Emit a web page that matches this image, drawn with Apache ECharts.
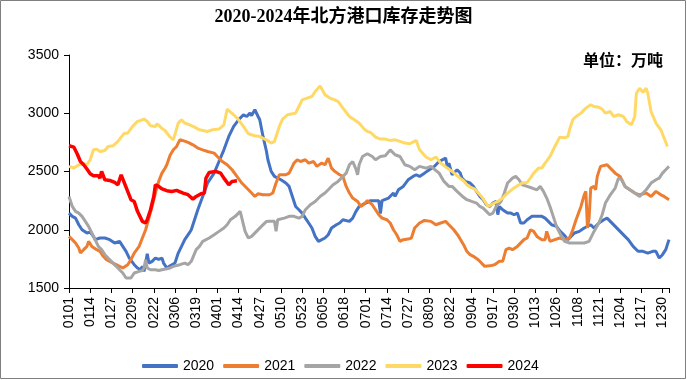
<!DOCTYPE html>
<html>
<head>
<meta charset="utf-8">
<script src="https://cdn.jsdelivr.net/npm/echarts@6/dist/echarts.min.js"></script>
<style>html,body{margin:0;padding:0;background:#fff}#c{width:687px;height:380px}</style>
</head>
<body>
<div id="c"></div>
<script>
// Day index (0 = 0101 of a leap year) and stock value (万吨)
const s2020 = [[0,2143],[2,2115],[4,2100],[6,2043],[8,2000],[11,1972],[13,1980],[15,1943],[16,1915],[19,1929],[22,1929],[25,1915],[28,1886],[31,1900],[33,1857],[35,1815],[37,1757],[40,1700],[42,1672],[44,1657],[45,1686],[46,1643],[47,1714],[48,1794],[49,1714],[51,1729],[53,1757],[55,1745],[57,1757],[58,1714],[60,1672],[62,1690],[65,1714],[67,1800],[69,1857],[71,1915],[74,1977],[75,2000],[77,2086],[79,2172],[82,2286],[85,2401],[89,2486],[92,2586],[95,2686],[98,2801],[101,2887],[104,2944],[107,2987],[109,2972],[111,3001],[112,2980],[114,3030],[116,2972],[117,2944],[119,2801],[121,2680],[122,2601],[124,2501],[126,2458],[130,2429],[133,2401],[135,2372],[137,2286],[139,2200],[141,2172],[143,2143],[145,2100],[147,2058],[149,2015],[151,1943],[153,1900],[154,1915],[157,1929],[159,1957],[161,2015],[164,2043],[166,2058],[168,2086],[172,2072],[174,2100],[176,2158],[178,2200],[180,2215],[183,2235],[185,2250],[188,2250],[190,2250],[191,2140],[192,2250],[193,2258],[196,2272],[199,2315],[200,2286],[202,2343],[205,2372],[208,2429],[211,2458],[213,2472],[215,2458],[218,2486],[221,2515],[224,2543],[227,2586],[231,2615],[232,2543],[233,2572],[235,2472],[238,2515],[240,2486],[241,2443],[243,2415],[246,2401],[248,2372],[250,2329],[252,2286],[254,2258],[256,2215],[258,2200],[260,2229],[262,2243],[263,2130],[264,2200],[266,2172],[269,2143],[271,2143],[273,2129],[275,2143],[277,2058],[279,2058],[281,2086],[284,2115],[287,2115],[290,2115],[292,2100],[294,2072],[296,2043],[299,2029],[301,1990],[304,1950],[306,1915],[310,1972],[313,1986],[316,2015],[320,2043],[322,2015],[325,2058],[328,2086],[330,2100],[332,2072],[335,2029],[338,1986],[341,1943],[343,1915],[346,1857],[349,1815],[352,1815],[355,1800],[358,1815],[360,1815],[362,1757],[364,1786],[366,1829],[368,1915]];
const s2021 = [[0,1943],[2,1915],[4,1886],[6,1843],[7,1800],[9,1829],[11,1857],[12,1900],[14,1857],[17,1829],[19,1815],[21,1772],[23,1743],[25,1729],[27,1714],[29,1700],[31,1686],[33,1672],[34,1663],[36,1700],[38,1743],[40,1800],[43,1857],[45,1929],[47,2000],[49,2100],[51,2200],[53,2315],[55,2415],[57,2486],[59,2530],[60,2558],[62,2640],[64,2686],[66,2715],[68,2772],[70,2765],[73,2750],[76,2729],[79,2701],[82,2686],[85,2672],[89,2658],[91,2629],[94,2586],[97,2558],[100,2515],[103,2458],[106,2401],[109,2358],[112,2315],[114,2286],[116,2309],[119,2300],[123,2300],[125,2315],[127,2401],[129,2472],[133,2472],[135,2486],[138,2572],[140,2601],[142,2586],[145,2601],[147,2572],[150,2586],[152,2544],[155,2572],[157,2558],[159,2615],[161,2529],[163,2501],[166,2472],[168,2458],[170,2372],[172,2315],[174,2272],[177,2243],[179,2200],[181,2220],[183,2250],[184,2265],[186,2215],[188,2172],[190,2129],[192,2100],[195,2086],[197,2058],[199,2000],[201,1957],[203,1900],[205,1915],[208,1920],[210,1929],[212,2015],[215,2058],[218,2080],[222,2072],[225,2043],[228,2058],[231,2072],[233,2043],[236,2000],[239,1943],[242,1872],[244,1815],[246,1786],[248,1772],[251,1743],[253,1714],[255,1686],[258,1690],[261,1700],[264,1729],[266,1729],[268,1829],[270,1843],[272,1829],[275,1857],[279,1915],[281,1929],[283,2000],[285,1986],[287,1943],[290,1915],[292,1915],[293,1986],[295,1900],[298,1915],[301,1929],[304,1915],[307,1929],[309,2000],[311,2086],[314,2200],[316,2300],[317,2330],[318,2015],[319,2100],[320,2358],[322,2372],[323,2343],[324,2458],[326,2544],[330,2558],[332,2529],[335,2486],[338,2458],[341,2372],[344,2343],[347,2315],[350,2300],[354,2315],[357,2286],[360,2329],[363,2300],[365,2286],[368,2258]];
const s2022 = [[0,2286],[2,2200],[4,2158],[6,2143],[8,2115],[10,2072],[12,2029],[14,1972],[16,1915],[18,1857],[20,1829],[22,1786],[24,1757],[27,1714],[29,1686],[31,1657],[33,1629],[35,1586],[36,1572],[38,1586],[40,1629],[43,1643],[45,1650],[46,1672],[47,1743],[48,1672],[50,1657],[53,1657],[55,1650],[57,1657],[60,1665],[62,1672],[64,1686],[68,1700],[71,1714],[73,1700],[75,1729],[76,1743],[78,1829],[80,1857],[82,1900],[86,1929],[89,1957],[92,1986],[95,2015],[97,2043],[99,2086],[102,2115],[105,2158],[106,2165],[108,1986],[110,1929],[112,1943],[115,1986],[118,2029],[121,2070],[123,2072],[126,2072],[127,1986],[128,2086],[132,2100],[135,2115],[138,2115],[141,2100],[143,2115],[145,2172],[148,2215],[151,2243],[154,2286],[157,2315],[159,2343],[162,2386],[165,2415],[167,2443],[170,2486],[172,2558],[174,2586],[176,2520],[177,2472],[178,2560],[180,2629],[183,2652],[186,2629],[188,2601],[191,2629],[194,2635],[197,2686],[200,2644],[203,2629],[206,2558],[209,2544],[212,2515],[215,2544],[219,2529],[222,2544],[227,2486],[230,2415],[233,2372],[235,2372],[238,2329],[241,2290],[244,2258],[247,2243],[250,2229],[252,2200],[254,2186],[256,2158],[258,2129],[260,2143],[262,2200],[265,2243],[267,2315],[269,2401],[272,2443],[274,2458],[276,2429],[278,2386],[281,2372],[284,2358],[287,2343],[289,2372],[291,2329],[293,2272],[295,2200],[297,2115],[299,2029],[301,1972],[304,1900],[307,1886],[312,1886],[316,1886],[319,1900],[322,1986],[325,2058],[327,2129],[329,2229],[332,2300],[335,2358],[337,2443],[339,2429],[341,2372],[344,2343],[347,2315],[350,2286],[354,2343],[357,2401],[360,2429],[362,2443],[364,2486],[366,2515],[368,2544]];
const s2023 = [[0,2544],[3,2530],[6,2558],[9,2566],[11,2558],[13,2601],[15,2686],[17,2692],[19,2672],[22,2680],[24,2715],[27,2721],[30,2758],[32,2795],[34,2829],[36,2829],[39,2887],[42,2930],[44,2938],[46,2950],[48,2930],[50,2892],[53,2887],[54,2910],[57,2870],[59,2850],[62,2795],[64,2772],[65,2787],[67,2915],[69,2944],[71,2915],[74,2901],[77,2881],[80,2858],[85,2844],[88,2858],[92,2864],[95,2901],[97,3035],[98,3044],[101,2987],[104,2944],[107,2887],[110,2824],[114,2807],[117,2800],[121,2772],[124,2744],[126,2758],[129,2887],[131,2950],[134,2987],[137,2995],[139,3001],[141,3058],[143,3115],[146,3130],[149,3144],[151,3187],[154,3235],[155,3230],[157,3158],[160,3130],[163,3115],[165,3101],[168,3044],[172,2972],[175,2944],[178,2915],[181,2864],[183,2844],[185,2835],[188,2795],[191,2778],[194,2778],[197,2767],[200,2772],[203,2758],[206,2744],[209,2738],[213,2767],[215,2686],[219,2624],[222,2601],[225,2624],[228,2572],[232,2529],[235,2501],[238,2465],[240,2440],[242,2420],[244,2386],[246,2366],[249,2349],[251,2315],[253,2286],[255,2243],[257,2200],[259,2215],[263,2243],[266,2272],[269,2315],[272,2349],[275,2378],[278,2401],[281,2406],[283,2443],[285,2486],[288,2529],[290,2529],[292,2572],[295,2629],[298,2715],[301,2795],[304,2790],[306,2800],[307,2860],[309,2944],[311,2972],[314,3001],[317,3044],[320,3072],[322,3058],[325,3052],[327,3035],[329,3001],[332,3015],[334,2972],[337,2987],[340,2972],[342,2930],[345,2901],[347,2972],[348,3172],[350,3215],[352,3180],[354,3215],[355,3172],[357,3015],[360,2915],[363,2858],[365,2787],[367,2715]];
const s2024 = [[0,2721],[3,2709],[5,2652],[7,2586],[9,2558],[11,2521],[13,2481],[15,2463],[18,2463],[19,2443],[20,2501],[22,2429],[25,2423],[28,2406],[30,2386],[32,2472],[34,2400],[36,2329],[38,2258],[40,2243],[42,2158],[45,2072],[47,2058],[48,2086],[50,2172],[52,2286],[53,2386],[55,2372],[57,2350],[60,2335],[63,2329],[66,2338],[70,2315],[73,2301],[76,2263],[78,2286],[81,2309],[83,2315],[84,2443],[86,2492],[90,2501],[93,2486],[95,2443],[98,2386],[100,2415],[103,2420]];

const seriesNames = ['2020','2021','2022','2023','2024'];
const seriesColors = ['#4472C4','#ED7D31','#A5A5A5','#FFD966','#FF0000'];
const seriesData = [s2020, s2021, s2022, s2023, s2024];

// Category tick labels (MMDD for each day of a leap year)
const monthDays = [31,29,31,30,31,30,31,31,30,31,30,31];
const dateLabels = [];
monthDays.forEach((n, m) => {
  for (let d = 1; d <= n; d++) {
    dateLabels.push(String(m + 1).padStart(2, '0') + String(d).padStart(2, '0'));
  }
});
const labelStep = 13;

const chart = echarts.init(document.getElementById('c'), null, {renderer: 'canvas'});
const axisFont = "'Liberation Sans', 'DejaVu Sans', sans-serif";
chart.setOption({
  animation: false,
  backgroundColor: '#fff',
  title: {
    text: '2020-2024年北方港口库存走势图',
    left: 'center',
    top: 3,
    textStyle: {fontSize: 18, fontWeight: 'bold', color: '#000', fontFamily: "'Liberation Serif', 'Noto Sans CJK SC', serif"}
  },
  graphic: [
    {type: 'rect', shape: {x: 0.5, y: 0.5, width: 685, height: 378}, style: {fill: 'none', stroke: '#7f7f7f', lineWidth: 1}, silent: true, z: 100},
    {type: 'text', left: 583, top: 52, style: {text: '单位：万吨', font: "bold 16px 'Noto Sans CJK SC'", fill: '#000'}}
  ],
  legend: {
    left: 137, top: 354, itemGap: 9, itemWidth: 36, itemHeight: 4, icon: 'roundRect',
    textStyle: {fontSize: 14, color: '#000', fontFamily: axisFont},
    data: seriesNames
  },
  grid: {left: 69, right: 18, top: 55, bottom: 92, containLabel: false},
  xAxis: {
    type: 'value', min: 0, max: 368, interval: labelStep,
    axisLine: {show: true, lineStyle: {color: '#000', width: 1}},
    axisTick: {show: true, length: 5, lineStyle: {color: '#000'}},
    splitLine: {show: false},
    axisLabel: {
      rotate: 90, margin: 9, fontSize: 14, color: '#000', fontFamily: axisFont,
      formatter: v => (v % labelStep === 0 && v < dateLabels.length) ? dateLabels[v] : ''
    }
  },
  yAxis: {
    type: 'value', min: 1500, max: 3500, interval: 500,
    axisLine: {show: true, lineStyle: {color: '#000', width: 1}},
    axisTick: {show: true, length: 5, lineStyle: {color: '#000'}},
    splitLine: {show: false},
    axisLabel: {margin: 10, fontSize: 14, color: '#000', fontFamily: axisFont, formatter: v => String(v)}
  },
  series: seriesNames.map((name, i) => ({
    name, type: 'line', data: seriesData[i], showSymbol: false, symbol: 'none',
    lineStyle: {width: i === 4 ? 3.5 : 3, color: seriesColors[i]},
    itemStyle: {color: seriesColors[i]},
    z: 2 + i
  }))
});
</script>
</body>
</html>
